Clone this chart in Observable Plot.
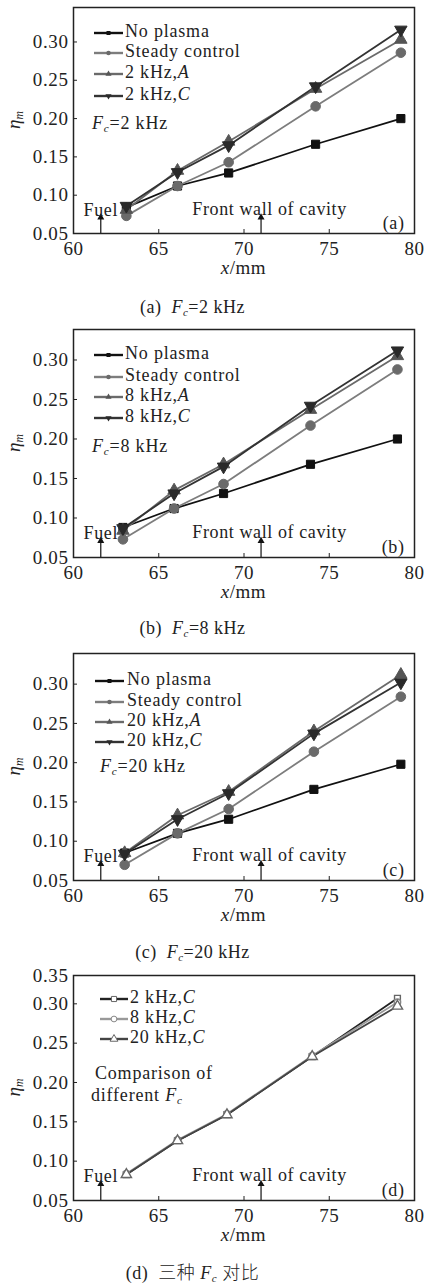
<!DOCTYPE html>
<html><head><meta charset="utf-8">
<script src="https://cdn.jsdelivr.net/npm/d3@7"></script>
<script src="https://cdn.jsdelivr.net/npm/@observablehq/plot@0.6"></script>
<style>
body{margin:0;background:#fff;}
#wrap{position:relative;width:428px;height:1284px;overflow:hidden;font-family:'Liberation Serif',serif;color:#222;}
#wrap svg, #wrap svg text, #wrap svg tspan{font-family:'Liberation Serif',serif !important;}
.panel{position:absolute;left:0;}
.cap{position:absolute;left:0;width:385px;text-align:center;font-size:18px;line-height:20px;letter-spacing:0.5px;white-space:nowrap;}
.cap i{font-style:italic;}
.cap sub{font-size:11px;font-style:italic;vertical-align:-3px;line-height:0;}
.cjk{font-family:'Noto Sans CJK SC',sans-serif;font-weight:300;}
</style></head><body><div id="wrap"></div>
<script>
// ---------- data ----------
const xTicks = [60, 65, 70, 75, 80];
const yTicks = [0.05, 0.10, 0.15, 0.20, 0.25, 0.30];
const yTicksD = [0.05, 0.10, 0.15, 0.20, 0.25, 0.30, 0.35];

const xA = [63.1, 66.1, 69.1, 74.2, 79.2];
const xB = [62.9, 65.9, 68.8, 73.9, 79.0];
const xC = [63.0, 66.1, 69.1, 74.1, 79.2];
const xD = [63.1, 66.1, 69.0, 74.0, 79.0];

const namesA = ["No plasma", "Steady control", "2 kHz,A", "2 kHz,C"];
const a_noPlasma = [0.084, 0.112, 0.129, 0.1665, 0.200];
const a_steady   = [0.073, 0.112, 0.143, 0.216, 0.286];
const a_A        = [0.081, 0.132, 0.170, 0.239, 0.303];
const a_C        = [0.086, 0.130, 0.165, 0.242, 0.316];

const namesB = ["No plasma", "Steady control", "8 kHz,A", "8 kHz,C"];
const b_noPlasma = [0.088, 0.112, 0.131, 0.168, 0.200];
const b_steady   = [0.073, 0.112, 0.143, 0.217, 0.288];
const b_A        = [0.084, 0.135, 0.168, 0.237, 0.305];
const b_C        = [0.087, 0.131, 0.165, 0.242, 0.312];

const namesC = ["No plasma", "Steady control", "20 kHz,A", "20 kHz,C"];
const c_noPlasma = [0.085, 0.110, 0.128, 0.166, 0.198];
const c_steady   = [0.070, 0.110, 0.141, 0.214, 0.284];
const c_A        = [0.085, 0.133, 0.163, 0.240, 0.312];
const c_C        = [0.084, 0.128, 0.161, 0.237, 0.302];

const namesD = ["2 kHz,C", "8 kHz,C", "20 kHz,C"];
const d_2k  = [0.083, 0.126, 0.159, 0.233, 0.307];
const d_8k  = [0.084, 0.127, 0.160, 0.234, 0.302];
const d_20k = [0.083, 0.126, 0.159, 0.233, 0.297];

const annotLabels = ["Fuel", "Front wall of cavity"];
const annotX = [61.6, 71.5];
const annotY = [0.081, 0.082];
const arrowX = [61.6, 71.0];
const arrowBase = 0.05;
const arrowTip = 0.071;

const fcLabels = ["F_c=2 kHz", "F_c=8 kHz", "F_c=20 kHz"];
const compLabels = ["Comparison of", "different F_c"];
const tags = ["(a)", "(b)", "(c)", "(d)"];
const captions = ["(a)  F_c=2 kHz", "(b)  F_c=8 kHz", "(c)  F_c=20 kHz", "(d)  三种 F_c 对比"];

// ---------- styles ----------
const FONT = "Liberation Serif, serif";
const solid = [
  {stroke:"#111", fill:"#111", symbol:"square", r:4.6, rotate:0, ms:"#111"},
  {stroke:"#7d7d7d", fill:"#6a6a6a", symbol:"circle", r:4.8, rotate:0, ms:"#6a6a6a"},
  {stroke:"#6a6a6a", fill:"#555", symbol:"triangle", r:4.6, rotate:0, ms:"#555"},
  {stroke:"#333", fill:"#2a2a2a", symbol:"triangle", r:4.6, rotate:180, ms:"#2a2a2a"}
];
const open = [
  {stroke:"#222", fill:"#fff", symbol:"square", r:3.3, rotate:0, ms:"#666"},
  {stroke:"#999", fill:"#fff", symbol:"circle", r:3.2, rotate:0, ms:"#888"},
  {stroke:"#444", fill:"#fff", symbol:"triangle", r:3.8, rotate:0, ms:"#666"}
];

const panels = [
  {svgTop:2, frameH:226, yMax:0.345, xs:xA, names:namesA, vals:[a_noPlasma,a_steady,a_A,a_C], st:solid,
   legX:[94,123,125], legRows:[26,46,67,89], fc:fcLabels[0], fcX:92, fcY:118, capY:307},
  {svgTop:324, frameH:228, yMax:0.3386, xs:xB, names:namesB, vals:[b_noPlasma,b_steady,b_A,b_C], st:solid,
   legX:[94,123,125], legRows:[26,48,68,89], fc:fcLabels[1], fcX:92, fcY:119, capY:628},
  {svgTop:648, frameH:227, yMax:0.339, xs:xC, names:namesC, vals:[c_noPlasma,c_steady,c_A,c_C], st:solid,
   legX:[95,124,127], legRows:[28,49,69,89], fc:fcLabels[2], fcX:100, fcY:115, capY:952},
  {svgTop:970, frameH:225, yMax:0.336, xs:xD, names:namesD, vals:[d_2k,d_8k,d_20k], st:open,
   legX:[100,128,130], legRows:[24,44,64], comp:true, capY:1271, d:true}
];

// rich-text segments: F_c, η_m -> italic + subscript; ",A"/",C" -> italic letter; leading x/ -> italic x
function segs(str){
  const out=[]; const re=/([Fη])_([a-z])|,([AC])$|^(x)(?=\/)/g; let last=0,m;
  while((m=re.exec(str))){
    if(m.index>last) out.push({t:str.slice(last,m.index)});
    if(m[1]){out.push({t:m[1],i:1});out.push({t:m[2],i:1,sub:1});}
    else if(m[3]){out.push({t:","});out.push({t:m[3],i:1});}
    else if(m[4]){out.push({t:"x",i:1});}
    last=re.lastIndex;
  }
  if(last<str.length) out.push({t:str.slice(last)});
  return out;
}
function rich(g, x, y, str, {size=18, anchor="start", ls="0.8px", transform=null}={}){
  const t=g.append("text").attr("x",x).attr("y",y).attr("font-size",size)
    .attr("text-anchor",anchor).attr("dominant-baseline","middle").attr("fill","#222")
    .attr("font-family",FONT).attr("letter-spacing",ls);
  if(transform) t.attr("transform",transform);
  let shifted=0;
  for(const s of segs(str)){
    const ts=t.append("tspan").text(s.t);
    if(s.i) ts.attr("font-style","italic");
    if(s.sub){ ts.attr("font-size",size*0.62).attr("dy",4); shifted=4; }
    else if(shifted){ ts.attr("dy",-shifted); shifted=0; }
  }
  return t;
}
function capHTML(str){
  return segs(str).map(s=> s.sub?`<sub>${s.t}</sub>` : s.i?`<i>${s.t}</i>` :
    s.t.replace(/  /g,"&nbsp; ").replace(/([\u4e00-\u9fff]+)/g,'<span class="cjk">$1</span>')).join("");
}

const wrap=document.getElementById("wrap");
const MT=5, MB=55, ML=73, MR=14, W=428;

panels.forEach((p,pi)=>{
  const marks=[];
  p.vals.forEach((vals,si)=>{
    marks.push(Plot.line(vals,{x:(d,j)=>p.xs[j], y:d=>d, stroke:p.st[si].stroke, strokeWidth:1.8}));
  });
  p.vals.forEach((vals,si)=>{
    const s=p.st[si];
    marks.push(Plot.dot(vals,{x:(d,j)=>p.xs[j], y:d=>d, symbol:s.symbol, r:s.r, rotate:s.rotate,
      fill:s.fill, stroke:s.ms, strokeWidth: p.d?1.4:1}));
  });
  marks.push(Plot.ruleX(arrowX,{x:d=>d, y1:()=>arrowBase, y2:()=>arrowTip, stroke:"#111", strokeWidth:1.2}));
  marks.push(Plot.dot(arrowX,{x:d=>d, y:()=>arrowTip, symbol:"triangle", r:2.6, fill:"#111", stroke:"none"}));
  marks.push(Plot.text(annotLabels,{x:annotX, y:annotY, text:d=>d, fontSize:18, fill:"#222",
    fontFamily:FONT, textAnchor:"middle"}));
  marks.push(Plot.text([tags[pi]],{frameAnchor:"bottom-right", dx:-10, dy:-5, textAnchor:"end",
    lineAnchor:"bottom", fontSize:18, fill:"#222", fontFamily:FONT}));
  marks.push(Plot.frame({stroke:"#222", strokeWidth:1.5}));

  const svg=Plot.plot({
    width:W, height:MT+p.frameH+MB, marginTop:MT, marginBottom:MB, marginLeft:ML, marginRight:MR,
    style:{fontFamily:FONT, fontSize:"19px", color:"#222", background:"transparent", overflow:"visible", letterSpacing:"0.6px"},
    x:{domain:[60,80], ticks:xTicks, tickSize:-4, tickPadding:12, label:null},
    y:{domain:[0.05,p.yMax], ticks:p.d?yTicksD:yTicks, tickFormat:d3.format(".2f"), tickSize:-4, tickPadding:9,
       label:null, clamp:!!p.d},
    marks
  });
  svg.setAttribute("font-family", FONT);
  svg.classList.add("panel");
  svg.style.top=p.svgTop+"px";
  wrap.appendChild(svg);

  const g=d3.select(svg).append("g");
  rich(g, ML+(W-ML-MR)/2, MT+p.frameH+37, "x/mm", {size:19, anchor:"middle", ls:"0.5px"});
  rich(g, 0, 0, "η_m", {size:19, anchor:"middle", ls:"0",
    transform:`translate(16,${MT+p.frameH/2}) rotate(-90)`});
  const [lx0,lx1,tx]=p.legX;
  p.names.forEach((nm,si)=>{
    const s=p.st[si], y=MT+p.legRows[si];
    g.append("line").attr("x1",lx0).attr("x2",lx1).attr("y1",y).attr("y2",y)
      .attr("stroke",s.stroke).attr("stroke-width",2.4);
    const sym=d3.symbol().type(s.symbol==="square"?d3.symbolSquare:s.symbol==="circle"?d3.symbolCircle:d3.symbolTriangle)
      .size(p.d?26:16);
    g.append("path").attr("d",sym()).attr("transform",`translate(${(lx0+lx1)/2},${y}) rotate(${s.rotate})`)
      .attr("fill",p.d?"#fff":s.fill).attr("stroke",p.d?s.ms:"none").attr("stroke-width",1);
    rich(g, tx, y, nm);
  });
  if(p.fc) rich(g, p.fcX, MT+p.fcY, p.fc);
  if(p.comp){
    rich(g, 95, MT+100, compLabels[0]);
    rich(g, 91, MT+122, compLabels[1]);
  }
  const cap=document.createElement("div");
  cap.className="cap"; cap.style.top=(p.capY-10)+"px";
  cap.innerHTML=capHTML(captions[pi]);
  wrap.appendChild(cap);
});
</script></body></html>
